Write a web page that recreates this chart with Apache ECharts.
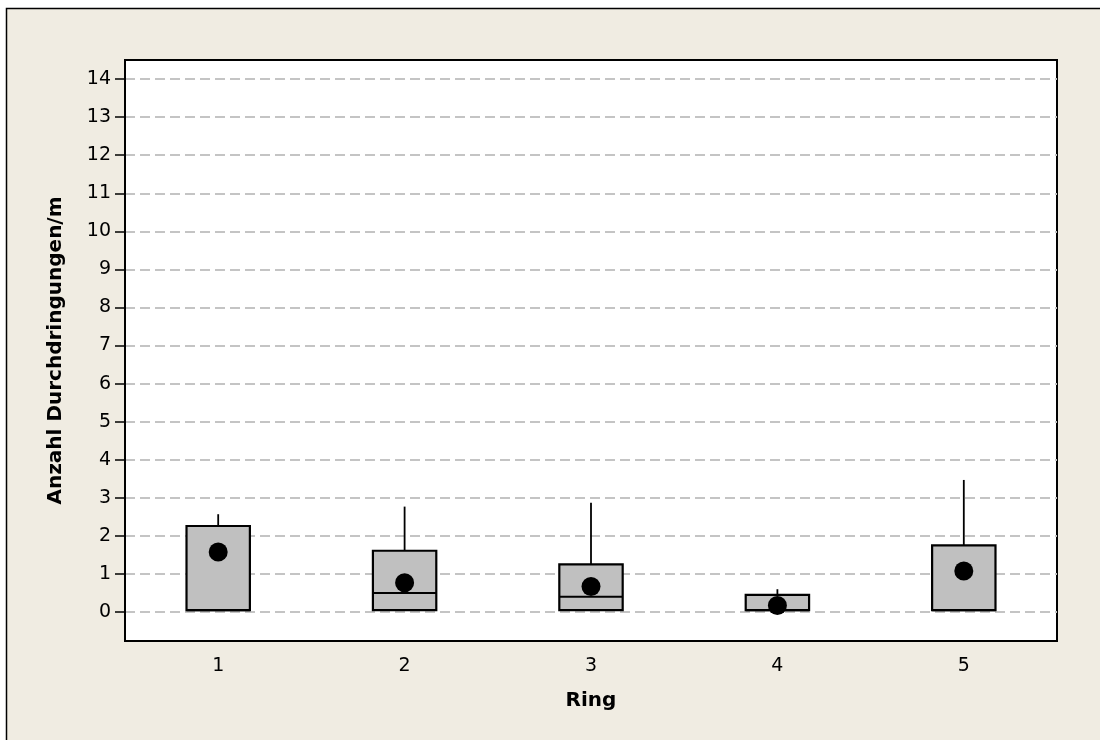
<!DOCTYPE html>
<html>
<head>
<meta charset="utf-8">
<title>Anzahl Durchdringungen je Ring</title>
<script src="https://cdn.jsdelivr.net/npm/echarts@6/dist/echarts.min.js"></script>
<style>
  html, body { margin: 0; padding: 0; background: #ffffff; }
  #chart { width: 1100px; height: 740px; }
</style>
</head>
<body>
<div id="chart"></div>
<script>
// Rings on the x axis
const categories = ['1', '2', '3', '4', '5'];
// Box statistics per ring (Anzahl Durchdringungen/m)
const q1Values = [0.05, 0.05, 0.05, 0.05, 0.05];
const medianValues = [0.05, 0.5, 0.4, 0.05, 0.05];
const q3Values = [2.26, 1.61, 1.25, 0.45, 1.75];
const whiskerTopValues = [2.57, 2.77, 2.87, 0.6, 3.47];
const meanValues = [1.58, 0.77, 0.67, 0.17, 1.08];
// Y tick labels
const yTicks = [0, 1, 2, 3, 4, 5, 6, 7, 8, 9, 10, 11, 12, 13, 14];

const FONT = 'DejaVu Sans';

const boxData = categories.map((c, i) => [i, q1Values[i], medianValues[i], q3Values[i], whiskerTopValues[i]]);
const meanData = categories.map((c, i) => [i, meanValues[i]]);

const chart = echarts.init(document.getElementById('chart'), null, { renderer: 'canvas' });

chart.setOption({
  animation: false,
  backgroundColor: '#ffffff',
  graphic: [{
    type: 'rect',
    z: -10,
    silent: true,
    shape: { x: 6.5, y: 8.5, width: 1200, height: 1000 },
    style: { fill: '#f0ece2', stroke: '#000000', lineWidth: 1.5 }
  }],
  grid: {
    left: 125, top: 60, right: 43, bottom: 99,
    show: true,
    backgroundColor: '#ffffff',
    borderColor: '#000000',
    borderWidth: 2
  },
  xAxis: {
    type: 'category',
    data: categories,
    boundaryGap: true,
    name: 'Ring',
    nameLocation: 'middle',
    nameGap: 50,
    nameTextStyle: { fontFamily: FONT, fontSize: 20, fontWeight: 'bold', color: '#000' },
    axisLine: { onZero: false, lineStyle: { color: '#000', width: 2 } },
    axisTick: { alignWithLabel: true, length: 9, lineStyle: { color: '#000', width: 1.5 } },
    axisLabel: { fontFamily: FONT, fontSize: 19, color: '#000', margin: 16 },
    splitLine: { show: false }
  },
  yAxis: {
    type: 'value',
    min: -0.76,
    max: 14.5,
    name: 'Anzahl Durchdringungen/m',
    nameLocation: 'middle',
    nameGap: 59,
    nameTextStyle: { fontFamily: FONT, fontSize: 20, fontWeight: 'bold', color: '#000' },
    axisLine: { show: true, onZero: false, lineStyle: { color: '#000', width: 2 } },
    axisTick: { show: true, length: 10, customValues: yTicks, lineStyle: { color: '#000', width: 1.5 } },
    axisLabel: { fontFamily: FONT, fontSize: 19, color: '#000', margin: 14, customValues: yTicks },
    splitLine: { show: true, lineStyle: { color: '#c4c4c4', width: 2, type: [10, 5] } }
  },
  series: [
    {
      type: 'custom',
      name: 'Box',
      data: boxData,
      encode: { x: 0, y: [1, 2, 3, 4] },
      z: 3,
      renderItem: function (params, api) {
        const idx = api.value(0);
        const q1 = api.coord([idx, api.value(1)]);
        const med = api.coord([idx, api.value(2)]);
        const q3 = api.coord([idx, api.value(3)]);
        const top = api.coord([idx, api.value(4)]);
        const w = api.size([1, 0])[0] * 0.34;
        const cx = q1[0];
        return {
          type: 'group',
          children: [
            {
              type: 'line',
              shape: { x1: cx, y1: q3[1], x2: cx, y2: top[1] },
              style: { stroke: '#000', lineWidth: 1.8 }
            },
            {
              type: 'rect',
              shape: { x: cx - w / 2, y: q3[1], width: w, height: q1[1] - q3[1] },
              style: { fill: '#c0c0c0', stroke: '#000', lineWidth: 2.2 }
            },
            {
              type: 'line',
              shape: { x1: cx - w / 2, y1: med[1], x2: cx + w / 2, y2: med[1] },
              style: { stroke: '#000', lineWidth: 2 }
            }
          ]
        };
      }
    },
    {
      type: 'scatter',
      name: 'Mittelwert',
      data: meanData,
      symbol: 'circle',
      symbolSize: 19,
      z: 5,
      itemStyle: { color: '#000000', opacity: 1 }
    }
  ]
});
</script>
</body>
</html>
